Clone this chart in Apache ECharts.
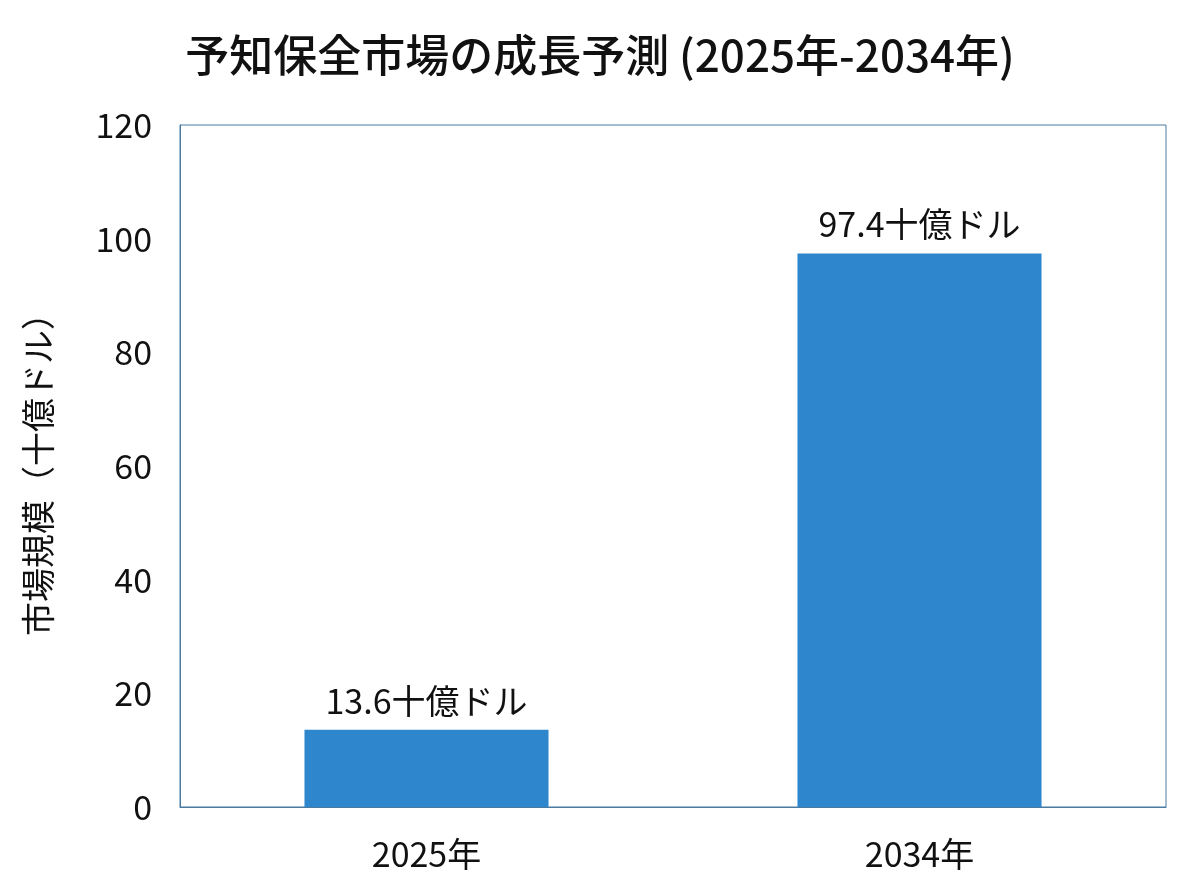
<!DOCTYPE html>
<html><head><meta charset="utf-8">
<script src="https://cdn.jsdelivr.net/npm/echarts@6/dist/echarts.min.js"></script>
<style>html,body{margin:0;padding:0;background:#fff}#c{width:1200px;height:896px}</style>
</head><body><div id="c"></div>
<script>
const categories = ['2025年', '2034年'];
const values = [13.6, 97.4];
const labels = ['13.6十億ドル', '97.4十億ドル'];
const font = '"Noto Sans CJK JP","Noto Sans",sans-serif';
const chart = echarts.init(document.getElementById('c'));
chart.setOption({
  animation: false,
  title: { text: '予知保全市場の成長予測 (2025年-2034年)', left: 'center', top: 28,
    textStyle: { fontFamily: font, fontSize: 44, fontWeight: 500, color: '#111' } },
  grid: { left: 180, right: 34, top: 125, bottom: 89, show: true, borderColor: '#4a7aa0', borderWidth: 1 },
  xAxis: { type: 'category', data: categories, axisTick: { show: false },
    axisLine: { lineStyle: { color: '#4a7aa0' } },
    axisLabel: { fontFamily: font, fontSize: 34, color: '#111', margin: 30 } },
  yAxis: { type: 'value', min: 0, max: 120, interval: 20, splitLine: { show: false },
    axisLine: { show: true, lineStyle: { color: '#4a7aa0' } }, axisTick: { show: false },
    axisLabel: { fontFamily: font, fontSize: 34, color: '#111', margin: 28 },
    name: '市場規模（十億ドル）', nameLocation: 'middle', nameGap: 125,
    nameTextStyle: { fontFamily: font, fontSize: 34, color: '#111' } },
  series: [{ type: 'bar', data: values, barWidth: '49.5%', itemStyle: { color: '#2E86CD' },
    label: { show: true, position: 'top', distance: 12, fontFamily: font, fontSize: 34, color: '#111',
      formatter: p => labels[p.dataIndex] } }]
});
</script></body></html>
